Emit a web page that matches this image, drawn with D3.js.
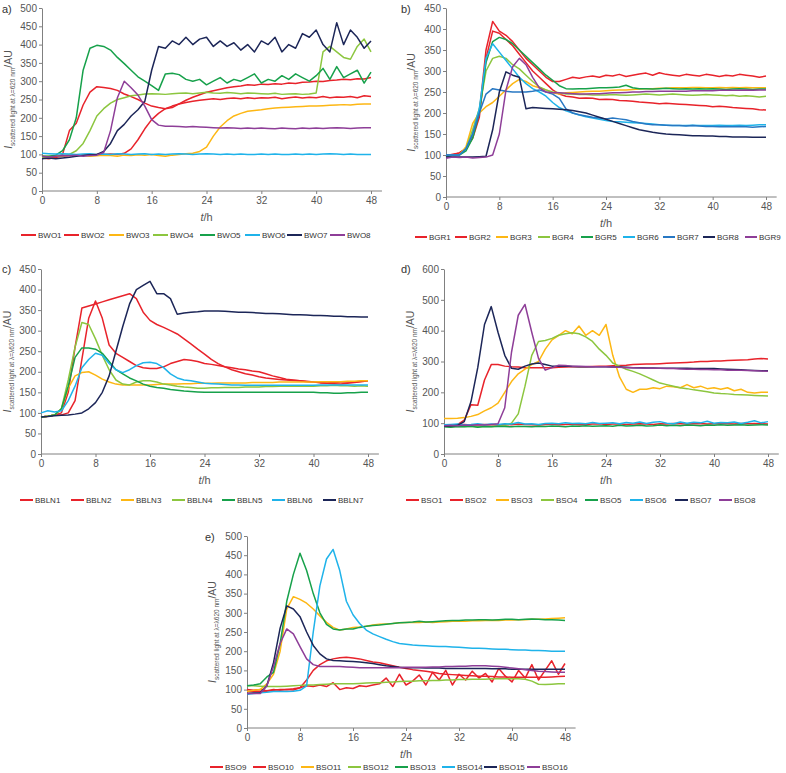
<!DOCTYPE html>
<html><head><meta charset="utf-8">
<script src="https://cdn.jsdelivr.net/npm/d3@7"></script>
<style>
html,body{margin:0;padding:0;background:#fff;}
svg{display:block;font-family:"Liberation Sans",Arial,sans-serif;}
</style></head>
<body>
<svg id="chart" width="786" height="773"></svg>
<script>
// ---------------- DATA ----------------
const hours = [0,1,2,3,4,5,6,7,8,9,10,11,12,13,14,15,16,17,18,19,20,21,22,23,24,25,26,27,28,29,30,31,32,33,34,35,36,37,38,39,40,41,42,43,44,45,46,47,48];
const xTicks = [0,8,16,24,32,40,48];

// Panel a
const namesA = ["BWO1","BWO2","BWO3","BWO4","BWO5","BWO6","BWO7","BWO8"];
const BWO1 = [95,90,92,100,165,185,235,270,285,283, 280,275,265,258,250,240,232,228,225,228, 238,248,256,263,270,274,278,282,285,287, 290,289,292,291,293,292,295,294,297,298, 300,299,302,303,305,304,307,306,310];
const BWO2 = [90,88,92,95,97,98,98,100,100,100, 101,100,103,115,140,170,195,212,225,232, 238,242,245,248,250,252,250,253,254,252, 255,253,255,254,256,252,255,257,254,256, 255,258,255,257,256,258,255,260,258];
const BWO3 = [95,95,96,97,96,98,97,95,96,98, 97,95,98,97,99,98,100,97,95,98, 100,102,103,108,120,150,175,192,205,212, 218,220,222,225,227,228,229,230,231,232, 232,233,234,235,236,235,237,238,238];
const BWO4 = [92,93,95,96,100,110,130,165,205,225, 240,250,255,260,262,265,266,265,264,266, 267,268,266,268,270,268,267,269,268,266, 268,267,266,265,267,264,265,266,264,265, 268,380,395,380,365,360,395,415,380];
const BWO5 = [95,95,98,110,140,200,330,390,398,395, 385,365,348,330,312,300,288,275,320,322, 318,305,300,305,290,300,310,295,305,300, 310,320,295,305,300,315,305,320,310,300, 315,335,305,340,310,320,330,295,325];
const BWO6 = [103,102,101,102,101,100,101,102,100,101, 100,102,101,100,101,102,100,101,100,101, 102,101,100,101,102,101,100,101,100,101, 100,100,101,100,101,100,100,101,100,101, 100,101,102,101,100,101,100,100,100];
const BWO7 = [88,90,88,90,92,95,97,99,100,108, 130,165,182,205,222,245,330,395,390,410, 400,420,400,415,420,395,410,395,405,385, 400,380,410,400,420,380,400,390,430,420, 440,400,380,460,400,440,420,390,410];
const BWO8 = [95,93,95,97,96,98,95,97,98,105, 165,255,300,282,262,232,195,180,177,177, 176,175,176,175,174,173,172,173,172,171, 172,171,172,171,170,172,171,170,172,171, 172,171,172,173,172,171,172,173,173];

// Panel b
const namesB = ["BGR1","BGR2","BGR3","BGR4","BGR5","BGR6","BGR7","BGR8","BGR9"];
const BGR1 = [98,102,105,115,145,200,350,418,395,385, 370,350,330,315,300,285,275,275,280,285, 283,286,288,285,290,288,292,287,290,293, 295,290,296,292,290,288,292,290,288,292, 290,287,290,288,292,290,288,285,288];
const BGR2 = [100,100,105,115,140,190,330,395,390,375, 360,340,320,300,285,270,255,245,240,238, 235,236,235,232,233,232,230,229,228,226, 225,224,222,223,222,221,220,219,218,217, 215,216,215,213,212,211,210,208,207];
const BGR3 = [95,98,100,120,175,200,215,225,240,255, 270,280,275,265,260,255,248,245,248,249, 250,251,252,252,253,254,255,255,256,257, 258,258,259,259,260,260,260,261,261,260, 260,261,260,261,260,261,260,260,260];
const BGR4 = [95,98,100,115,160,210,300,330,335,330, 315,305,290,275,262,255,250,248,245,245, 244,244,243,243,243,244,243,242,243,244, 245,244,243,244,245,244,243,242,243,244, 243,242,241,242,240,241,240,238,240];
const BGR5 = [95,98,100,110,140,200,320,370,380,375, 365,350,335,320,305,290,278,265,258,257, 258,258,259,260,260,261,262,266,260,258, 258,257,258,259,258,257,258,257,258,257, 258,257,256,257,258,257,256,257,257];
const BGR6 = [100,100,100,115,150,210,330,365,345,325, 305,285,270,258,250,240,225,213,205,200, 195,191,188,185,182,180,179,178,177,176, 175,174,172,171,170,170,170,171,170,170, 170,171,170,170,171,170,171,172,172];
const BGR7 = [100,100,100,115,150,200,245,258,255,252, 250,250,250,252,255,250,245,235,210,200, 196,193,190,188,186,188,186,184,180,177, 174,172,172,171,170,170,169,170,169,168, 168,167,168,167,168,167,166,167,168];
const BGR8 = [95,95,95,95,95,96,97,160,250,298, 290,285,210,213,212,211,210,209,208,206, 203,200,195,190,185,180,175,170,165,160, 157,154,152,150,149,148,147,146,146,145, 145,144,144,143,143,143,142,142,142];
const BGR9 = [92,95,94,95,93,94,95,100,150,255, 310,330,315,285,260,250,248,248,247,246, 245,245,246,246,247,248,248,249,250,250, 251,251,252,252,252,252,252,253,253,253, 253,254,254,254,254,255,254,255,255];

// Panel c
const namesC = ["BBLN1","BBLN2","BBLN3","BBLN4","BBLN5","BBLN6","BBLN7"];
const BBLN1 = [90,92,95,95,100,130,230,330,372,330, 265,245,235,225,215,210,208,208,212,220, 225,230,228,225,220,218,215,212,210,207, 205,202,200,195,190,186,182,180,178,176, 175,173,172,171,170,172,174,176,178];
const BBLN2 = [90,92,95,100,150,260,355,360,365,370, 375,380,385,390,378,345,325,315,308,300, 292,280,268,255,243,230,220,212,205,200, 195,192,188,185,183,181,180,179,178,177, 175,174,173,174,175,176,175,177,178];
const BBLN3 = [90,92,95,110,160,190,198,200,192,182, 175,170,168,168,168,168,168,169,170,170, 170,171,171,172,172,172,173,173,173,173, 173,174,174,174,174,175,175,175,175,175, 175,176,176,176,176,177,177,178,178];
const BBLN4 = [90,92,95,110,180,260,320,315,280,240, 205,180,170,168,175,178,178,175,170,168, 165,163,162,160,160,161,161,162,162,162, 163,163,163,164,164,165,165,165,165,165, 165,166,166,167,166,166,165,166,165];
const BBLN5 = [90,92,95,110,165,235,258,258,255,245, 225,205,195,185,178,170,165,162,160,157, 155,153,152,151,150,150,150,150,150,150, 150,150,150,150,150,150,150,150,150,150, 150,149,149,148,148,149,149,150,150];
const BBLN6 = [100,105,102,105,130,165,210,230,245,240, 220,205,198,205,215,222,223,220,210,195, 185,180,178,175,172,171,170,169,168,168, 167,167,167,167,167,167,167,167,167,167, 167,168,168,168,168,168,168,168,168];
const BBLN7 = [90,91,93,94,95,97,100,110,125,150, 190,250,310,365,400,410,420,390,390,378, 340,343,345,346,348,348,348,347,346,345, 345,344,343,342,342,341,340,339,339,338, 337,337,336,335,335,334,334,333,333];

// Panel d
const namesD = ["BSO1","BSO2","BSO3","BSO4","BSO5","BSO6","BSO7","BSO8"];
const BSO1 = [95,95,95,110,160,158,240,290,290,285, 283,282,280,280,280,280,280,281,282,283, 283,283,284,285,285,286,287,288,290,291, 292,292,293,294,295,296,297,298,300,300, 302,302,303,304,305,306,308,310,308];
const BSO2 = [95,94,95,96,94,95,96,95,94,96, 95,97,96,95,94,96,97,95,96,97, 95,96,97,98,96,97,98,96,97,98, 97,96,98,97,99,98,97,98,99,97, 98,99,98,97,99,98,99,98,97];
const BSO3 = [115,115,116,118,122,128,140,150,165,200, 235,260,275,290,300,340,370,385,400,390, 415,385,400,385,420,320,250,210,200,210, 210,215,212,220,218,215,225,215,220,212, 215,210,215,205,210,200,198,200,200];
const BSO4 = [90,88,90,89,90,88,90,89,90,92, 100,130,220,320,365,368,375,385,390,393, 390,380,365,340,320,295,285,275,268,260, 250,240,230,225,220,215,212,208,205,202, 198,196,195,193,192,191,190,189,188];
const BSO5 = [88,87,89,88,90,87,89,88,90,89, 88,90,89,88,90,89,91,90,88,91, 90,92,90,91,92,90,93,91,92,93, 91,92,94,92,93,92,94,93,92,94, 93,95,93,94,95,93,94,95,94];
const BSO6 = [95,96,97,95,96,98,95,97,96,98, 97,102,97,98,96,99,100,98,101,99, 100,98,102,99,100,101,98,102,100,104, 99,103,105,100,98,104,100,103,101,106, 100,102,101,104,99,103,108,101,105];
const BSO7 = [90,91,93,105,170,280,420,478,395,320, 278,275,285,292,295,290,285,285,285,284, 283,283,283,283,283,282,282,281,280,280, 279,279,278,278,278,278,278,277,277,277, 277,276,275,274,273,272,271,270,270];
const BSO8 = [92,93,92,94,93,95,94,96,98,150, 330,450,485,395,310,272,280,288,287,285, 285,284,283,283,283,282,281,280,280,279, 278,278,278,277,277,276,275,275,274,274, 273,273,272,272,272,271,270,269,268];

// Panel e
const namesE = ["BSO9","BSO10","BSO11","BSO12","BSO13","BSO14","BSO15","BSO16"];
const BSO9 = [95,95,95,96,98,100,100,102,105,125, 150,165,175,180,183,184,182,180,176,172, 170,166,162,158,155,152,150,148,145,142, 140,139,138,137,136,135,135,134,133,133, 132,132,132,132,132,132,133,134,135];
const BSO10 = [100,98,100,97,100,98,100,99,105,110, 108,112,108,118,100,105,103,110,108,112, 115,130,108,140,112,122,138,112,145,125, 150,112,140,125,148,130,142,120,155,135, 120,150,130,165,125,150,175,140,168];
const BSO11 = [95,98,100,115,140,200,310,342,335,325, 310,292,275,262,255,258,262,263,265,268, 270,271,272,274,275,275,275,276,275,276, 277,278,278,278,279,279,280,280,280,281, 281,282,282,283,283,284,285,286,287];
const BSO12 = [110,110,109,108,108,108,109,110,111,112, 112,113,114,115,115,115,115,116,117,118, 118,119,120,121,122,122,123,123,124,124, 125,125,126,126,127,127,127,128,128,128, 128,128,127,122,114,113,114,115,115];
const BSO13 = [110,112,115,133,145,220,330,400,455,410, 350,300,270,258,255,258,258,262,265,267, 268,270,272,274,275,276,278,276,277,278, 279,280,280,281,281,282,282,281,282,283, 283,282,283,284,283,282,282,281,280];
const BSO14 = [88,90,92,93,95,95,95,96,98,110, 250,370,440,465,410,330,295,272,255,245, 238,231,225,220,218,216,215,214,213,212, 212,211,210,209,208,208,207,206,205,205, 204,203,203,202,202,201,200,200,200];
const BSO15 = [90,91,92,110,170,260,318,310,290,250, 215,193,180,176,175,174,173,172,170,168, 165,162,160,158,157,157,157,156,156,156, 155,155,155,155,155,155,155,154,154,154, 153,153,153,153,153,153,153,153,153];
const BSO16 = [90,90,90,110,160,220,258,245,212,180, 165,160,160,160,160,159,158,157,157,157, 157,157,157,157,158,158,158,158,159,159, 160,160,161,161,162,162,162,161,160,158, 156,154,152,150,148,147,146,145,145];

// ---------------- STYLE ----------------
const C = {red:"#e8232b", yellow:"#fdb714", lgreen:"#8cc63f", green:"#17a14b", lblue:"#1fb3ea", mblue:"#2878c3", navy:"#1c2658", purple:"#8e3e98"};

const panels = [
  {letter:"a)", names:namesA, data:[BWO1,BWO2,BWO3,BWO4,BWO5,BWO6,BWO7,BWO8],
   colors:[C.red,C.red,C.yellow,C.lgreen,C.green,C.lblue,C.navy,C.purple],
   x0:42, x1:371, yT:8, yB:191, yMax:500, yStep:50, lam:"λ=620 nm",
   letterPos:[2,13], ylabX:12, legY:235, legLen:15, legX:[21,64,109,153,200,245,287,330]},
  {letter:"b)", names:namesB, data:[BGR1,BGR2,BGR3,BGR4,BGR5,BGR6,BGR7,BGR8,BGR9],
   colors:[C.red,C.red,C.yellow,C.lgreen,C.green,C.lblue,C.mblue,C.navy,C.purple],
   x0:446, x1:766, yT:8, yB:197, yMax:450, yStep:50, lam:"λ=620 nm",
   letterPos:[401,13], ylabX:415, legY:237, legLen:12, legX:[415,455,496,538,581,623,663,703,745]},
  {letter:"c)", names:namesC, data:[BBLN1,BBLN2,BBLN3,BBLN4,BBLN5,BBLN6,BBLN7],
   colors:[C.red,C.red,C.yellow,C.lgreen,C.green,C.lblue,C.navy],
   x0:41, x1:368, yT:269, yB:454, yMax:450, yStep:50, lam:"λ=λ620 nm",
   letterPos:[2,273], ylabX:11, legY:500, legLen:13, legX:[20,71,121,172,222,272,323]},
  {letter:"d)", names:namesD, data:[BSO1,BSO2,BSO3,BSO4,BSO5,BSO6,BSO7,BSO8],
   colors:[C.red,C.red,C.yellow,C.lgreen,C.green,C.lblue,C.navy,C.purple],
   x0:444, x1:768, yT:269, yB:454, yMax:600, yStep:100, lam:"λ=λ620 nm",
   letterPos:[401,273], ylabX:414, legY:500, legLen:13, legX:[406,450,496,541,585,630,675,719]},
  {letter:"e)", names:namesE, data:[BSO9,BSO10,BSO11,BSO12,BSO13,BSO14,BSO15,BSO16],
   colors:[C.red,C.red,C.yellow,C.lgreen,C.green,C.lblue,C.navy,C.purple],
   x0:247, x1:565, yT:536, yB:728, yMax:500, yStep:50, lam:"λ=λ620 nm",
   letterPos:[205,541], ylabX:216, legY:767, legLen:13, legX:[210,253,301,348,395,442,484,527]}
];

const svg = d3.select("#chart");
const axisCol = "#808080", textCol = "#555";

panels.forEach(p => {
  const g = svg.append("g");
  const x = d3.scaleLinear().domain([0,48]).range([p.x0,p.x1]);
  const y = d3.scaleLinear().domain([0,p.yMax]).range([p.yB,p.yT]);
  const yTicks = d3.range(0, p.yMax + 1, p.yStep);

  const ya = g.append("g").attr("transform",`translate(${p.x0},0)`)
    .call(d3.axisLeft(y).tickValues(yTicks).tickSize(3).tickPadding(2).tickSizeOuter(0));
  const xa = g.append("g").attr("transform",`translate(0,${p.yB})`)
    .call(d3.axisBottom(x).tickValues(xTicks).tickSize(3).tickPadding(3).tickSizeOuter(0));
  xa.select(".domain").attr("d",`M${p.x0},0H${x(49.6)}`);
  [ya,xa].forEach(a=>{
    a.selectAll("path,line").attr("stroke",axisCol).attr("stroke-width",1);
    a.selectAll("text").attr("fill",textCol).attr("font-size",10).attr("font-family","'Liberation Sans',Arial,sans-serif");
  });

  const line = d3.line().x((d,i)=>x(hours[i])).y(d=>y(d));
  p.data.forEach((arr,k)=>{
    g.append("path").datum(arr).attr("d",line)
      .attr("fill","none").attr("stroke",p.colors[k]).attr("stroke-width",1.5)
      .attr("stroke-linejoin","round");
  });

  g.append("text").attr("x",p.letterPos[0]).attr("y",p.letterPos[1])
    .attr("font-size",11).attr("fill","#333").text(p.letter);

  const xl = g.append("text").attr("x",(p.x0+p.x1)/2).attr("y",p.yB+30)
    .attr("text-anchor","middle").attr("font-size",11).attr("fill",textCol);
  xl.append("tspan").attr("font-style","italic").text("t");
  xl.append("tspan").text("/h");

  const yc = (p.yT+p.yB)/2;
  const yl = g.append("text").attr("transform",`translate(${p.ylabX},${yc}) rotate(-90)`)
    .attr("text-anchor","middle").attr("fill",textCol).attr("font-size",10.5);
  yl.append("tspan").attr("font-style","italic").text("I");
  yl.append("tspan").attr("font-size",6.5).attr("dy",2.5).text("scattered light at "+p.lam);
  yl.append("tspan").attr("dy",-2.5).text("/AU");

  p.names.forEach((n,k)=>{
    const lx = p.legX[k];
    g.append("line").attr("x1",lx).attr("x2",lx+p.legLen).attr("y1",p.legY).attr("y2",p.legY)
      .attr("stroke",p.colors[k]).attr("stroke-width",2);
    g.append("text").attr("x",lx+p.legLen+2).attr("y",p.legY+3).attr("font-size",8)
      .attr("fill","#333").text(n);
  });
});
</script>
</body></html>
